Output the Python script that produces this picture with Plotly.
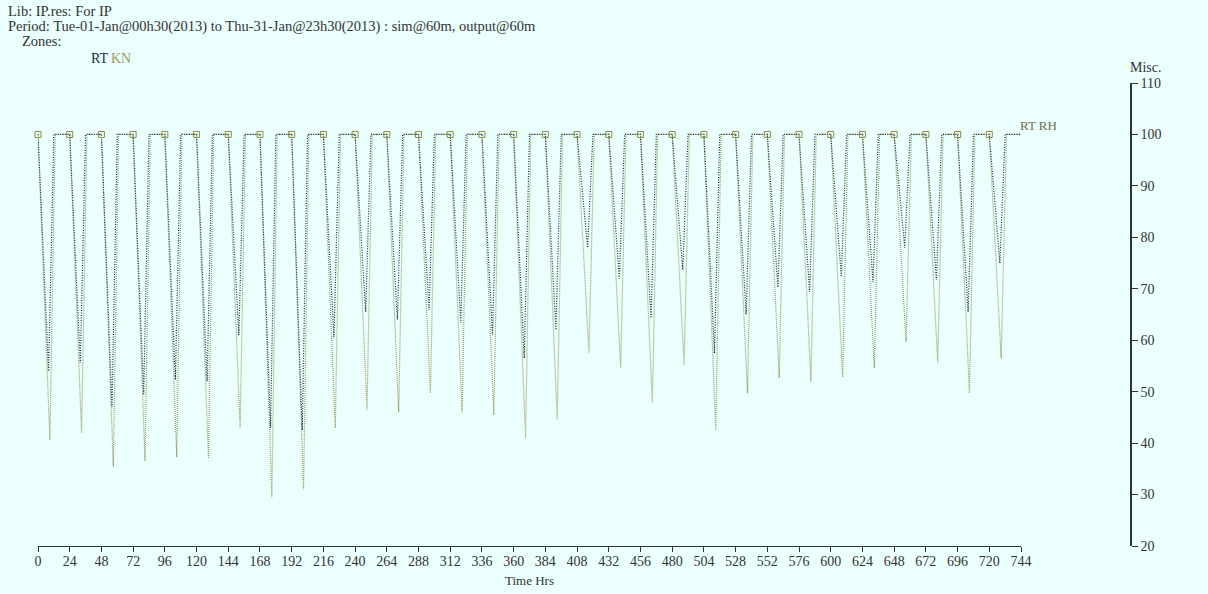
import plotly.graph_objects as go

# Hour at which each simulated day starts (January 2013, hourly results)
day_start_hours = [0, 24, 48, 72, 96, 120, 144, 168, 192, 216, 240, 264, 288, 312,
                   336, 360, 384, 408, 432, 456, 480, 504, 528, 552, 576, 600, 624,
                   648, 672, 696, 720]
end_hour = 744

# Daily minimum relative humidity (%) for each zone; RH sits at 100 otherwise
rt_min_rh = [54, 55.6, 47, 49.4, 52.3, 52, 61, 43, 42.5, 60.6, 65.5, 64, 65.9, 63.4,
             61, 56.5, 62, 78, 72, 64.3, 73.7, 57.5, 65, 70.3, 69.4, 72.3, 71.3,
             78, 71.7, 65.5, 75]
kn_min_rh = [40.6, 42, 35.4, 36.5, 37.3, 37, 43, 29.5, 31, 43, 46.4, 46, 49.7, 46,
             45.5, 41, 44.5, 57.5, 54.6, 47.8, 55.2, 42.5, 49.7, 52.7, 52, 52.9, 54.6,
             59.7, 55.6, 49.7, 56.5]
saturated_rh = 100

x_ticks = list(range(0, 745, 24))
y_ticks = [20, 30, 40, 50, 60, 70, 80, 90, 100, 110]

# Timing within the day: hour of the minimum and hour RH is back at saturation
RT_T_MIN, RT_T_BACK = 8, 12
KN_T_MIN, KN_T_BACK = 9, 13

BG = "#ebfffd"
RT_COL = "#1c2c47"
KN_COL = "#9d9b5e"
AX_COL = "#333333"
FONT = "Liberation Serif"

W, H = 1208, 594
L, R, T, B = 38, 77, 83, 48
PLOT_W = W - L - R
PLOT_H = H - T - B
X_END_PX = 1021


def px_x(px):
    return (px - L) / PLOT_W


def px_y(py):
    return (H - B - py) / PLOT_H


def daily_profile(starts, minima, t_min, t_back):
    xs, ys = [], []
    for h0, m in zip(starts, minima):
        xs += [h0, h0 + t_min, h0 + t_back]
        ys += [saturated_rh, m, saturated_rh]
    xs.append(end_hour)
    ys.append(saturated_rh)
    return xs, ys


rt_x, rt_y = daily_profile(day_start_hours, rt_min_rh, RT_T_MIN, RT_T_BACK)
kn_x, kn_y = daily_profile(day_start_hours, kn_min_rh, KN_T_MIN, KN_T_BACK)

fig = go.Figure()
fig.add_trace(go.Scatter(x=kn_x, y=kn_y, mode="lines", name="KN",
                         line=dict(color=KN_COL, width=1.2, dash="1px,1px")))
fig.add_trace(go.Scatter(x=rt_x, y=rt_y, mode="lines", name="RT",
                         line=dict(color=RT_COL, width=1.2, dash="1px,1.5px")))
fig.add_trace(go.Scatter(x=day_start_hours, y=[saturated_rh] * len(day_start_hours),
                         mode="markers", name="KN markers", cliponaxis=False,
                         marker=dict(symbol="square-open-dot", size=6,
                                     color="#8e8c45", line=dict(width=1))))

fig.update_layout(
    width=W, height=H,
    margin=dict(l=L, r=R, t=T, b=B, pad=0),
    paper_bgcolor=BG, plot_bgcolor=BG,
    showlegend=False,
    font=dict(family=FONT, size=14, color=AX_COL),
    xaxis=dict(
        domain=[0, px_x(X_END_PX)], range=[0, end_hour],
        tickvals=x_ticks, ticktext=[str(v) for v in x_ticks],
        showgrid=False, zeroline=False,
        showline=True, linecolor=AX_COL, linewidth=1,
        ticks="outside", ticklen=5, tickcolor=AX_COL,
        ticklabelstandoff=-3,
        tickfont=dict(family=FONT, size=14, color=AX_COL),
    ),
    yaxis=dict(
        range=[20, 110], side="right", anchor="free", position=1.0,
        tickvals=y_ticks, ticktext=[str(v) for v in y_ticks],
        showgrid=False, zeroline=False,
        showline=True, linecolor=AX_COL, linewidth=1.5,
        ticks="outside", ticklen=6, tickcolor=AX_COL,
        ticklabelstandoff=0,
        tickfont=dict(family=FONT, size=14, color=AX_COL),
    ),
)

ann = []


def text(s, x_px, y_px, color=AX_COL, size=14.5, xanchor="left"):
    ann.append(dict(text=s, x=px_x(x_px), y=px_y(y_px), xref="paper", yref="paper",
                    showarrow=False, xanchor=xanchor, yanchor="middle",
                    font=dict(family=FONT, size=size, color=color)))


text("Lib: IP.res: For IP", 6, 11)
text("Period: Tue-01-Jan@00h30(2013) to Thu-31-Jan@23h30(2013) : sim@60m, output@60m", 6, 26)
text("Zones:", 20, 41)
text("RT", 89, 58, RT_COL, size=14)
text("KN", 109, 58, KN_COL, size=14)
text("Misc.", 1128, 68, size=14)
text("Time Hrs", (L + X_END_PX) / 2, 580, xanchor="center", size=13)
text("RT RH", 1018, 125, "#6e6d4c", size=13)

fig.update_layout(annotations=ann)
fig.write_html("out.html")
